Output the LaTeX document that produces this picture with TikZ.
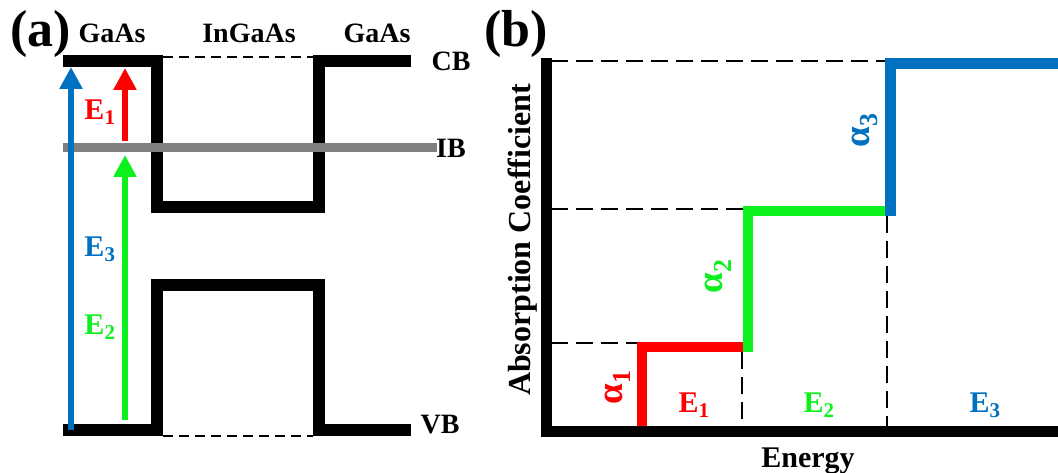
\documentclass[tikz,border=0pt]{standalone}
\usepackage{fontspec}
\setmainfont{Liberation Serif}
\usetikzlibrary{arrows.meta}
\definecolor{cbblue}{RGB}{0,112,192}
\definecolor{cbred}{RGB}{255,0,0}
\definecolor{cbgreen}{RGB}{12,240,30}
\definecolor{ibgray}{RGB}{128,128,128}
\tikzset{
  band/.style={line width=12pt, black},
  guide/.style={line width=1.6pt, black, dash pattern=on 10pt off 6pt},
  grid guide/.style={line width=1.8pt, black, dash pattern=on 17pt off 8pt},
  axis/.style={line width=11pt, black},
  stepline/.style={line width=10.5pt},
  trans/.style={line width=6pt, -{Triangle[length=22pt,width=22pt]}},
  lbl/.style={font=\bfseries\fontsize{28}{30}\selectfont, inner sep=0pt},
  elbl/.style={font=\bfseries\fontsize{30}{32}\selectfont, inner sep=0pt},
  albl/.style={font=\bfseries\fontsize{37}{40}\selectfont, inner sep=0pt, rotate=90},
  panel/.style={font=\bfseries\fontsize{52}{56}\selectfont, inner sep=0pt},
}
\begin{document}
\begin{tikzpicture}[x=1pt,y=-1pt]
\useasboundingbox (0,0) rectangle (1058,473);

% ---------- (a) band diagram ----------
\draw[guide] (163,57) -- (313,57);
\draw[guide] (163,436) -- (313,436);
\draw[band] (63,61) -- (157,61) -- (157,207) -- (319,207) -- (319,61) -- (411,61);
\draw[band] (63,430) -- (157,430) -- (157,285) -- (319,285) -- (319,430) -- (411,430);
\draw[ibgray, line width=9pt] (63,148) -- (437,148);

\coordinate (e3s) at (71,430);  \coordinate (e3t) at (71,67);
\coordinate (e1s) at (125,141); \coordinate (e1t) at (125,68);
\coordinate (e2s) at (125,420); \coordinate (e2t) at (125,155);
\draw[trans, cbblue] (e3s) -- (e3t);
\draw[trans, cbred] (e1s) -- (e1t);
\draw[trans, cbgreen] (e2s) -- (e2t);

\node[panel] (pa) at (41,34) {(a)};
\node[lbl] (gaasl) at (112,33) {GaAs};
\node[lbl] (ingaas) at (249,33) {InGaAs};
\node[lbl] (gaasr) at (377,33) {GaAs};
\node[lbl] (cb) at (451,61) {CB};
\node[lbl] (ib) at (451,148) {IB};
\node[lbl] (vb) at (440,425) {VB};
\node[elbl, cbred] (ae1) at (100,112) {E\textsubscript{1}};
\node[elbl, cbblue] (ae3) at (100,249) {E\textsubscript{3}};
\node[elbl, cbgreen] (ae2) at (100,327) {E\textsubscript{2}};

% ---------- (b) absorption steps ----------
\draw[grid guide] (551,61) -- (885,61);
\draw[grid guide] (551,209) -- (743,209);
\draw[grid guide] (551,343) -- (637,343);
\draw[grid guide] (742,352) -- (742,426);
\draw[grid guide] (887,216) -- (887,426);

\draw[stepline, cbred] (642,426) -- (642,347) -- (743,347);
\draw[stepline, cbgreen] (748,352) -- (748,211) -- (885,211);
\draw[stepline, cbblue, line width=11pt] (890,216) -- (890,64) -- (1058,64);
\draw[axis] (546,58) -- (546,431) -- (1058,431);

\node[panel] (pb) at (516,34) {(b)};
\node[lbl, font=\bfseries\fontsize{32}{34}\selectfont, rotate=90, anchor=base] (ylab) at (530,240) {Absorption Coefficient};
\node[lbl, font=\bfseries\fontsize{30}{32}\selectfont, anchor=base] (xlab) at (808,467) {Energy};
\node[albl, cbred] (a1) at (618,387) {α\textsubscript{1}};
\node[albl, cbgreen] (a2) at (718,276) {α\textsubscript{2}};
\node[albl, cbblue] (a3) at (865,130) {α\textsubscript{3}};
\node[elbl, cbred] (be1) at (694,405) {E\textsubscript{1}};
\node[elbl, cbgreen] (be2) at (819,405) {E\textsubscript{2}};
\node[elbl, cbblue] (be3) at (985,405) {E\textsubscript{3}};
\end{tikzpicture}
\end{document}
